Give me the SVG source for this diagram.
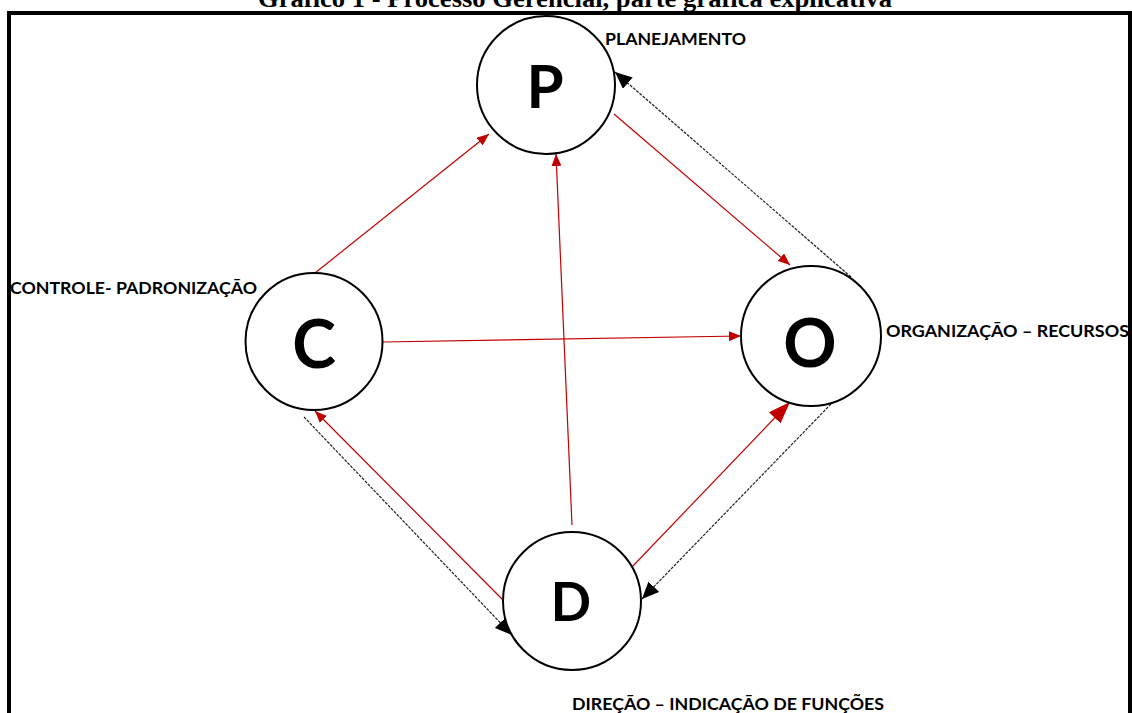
<svg xmlns="http://www.w3.org/2000/svg" width="1132" height="713" viewBox="0 0 1132 713">
<style>
.node circle{fill:#fff;stroke:#000;stroke-width:2}
.big{font-family:Lato,"Open Sans","DejaVu Sans",sans-serif;font-weight:bold;text-anchor:middle;fill:#000}
.lbl{font-family:Lato,"Open Sans","DejaVu Sans",sans-serif;font-weight:bold;font-size:17.5px;fill:#000}
.red{stroke:#C00000;stroke-width:1.2;fill:none}
.dot{stroke:#222;stroke-width:1.2;stroke-dasharray:3 1.2;fill:none}
</style>
<defs>
<marker id="rs" markerUnits="userSpaceOnUse" markerWidth="12" markerHeight="10" refX="12" refY="5" orient="auto"><path d="M0,0 L12,5 L0,10 z" fill="#C00000"/></marker>
<marker id="rl" markerUnits="userSpaceOnUse" markerWidth="22" markerHeight="16" refX="22" refY="8" orient="auto"><path d="M0,0 L22,8 L0,16 z" fill="#C00000"/></marker>
<marker id="bk" markerUnits="userSpaceOnUse" markerWidth="17" markerHeight="15" refX="17" refY="7.5" orient="auto"><path d="M0,0 L17,7.5 L0,15 z" fill="#000"/></marker>
</defs>
<rect x="0" y="0" width="1132" height="713" fill="#fff"/>
<text x="575" y="7" font-family="'Liberation Serif','Times New Roman',serif" font-weight="bold" font-size="26" text-anchor="middle" textLength="634" lengthAdjust="spacingAndGlyphs">Gráfico 1 - Processo Gerencial, parte gráfica explicativa</text>
<rect x="9" y="13" width="1121" height="720" fill="none" stroke="#000" stroke-width="4"/>
<g id="connectors">
<line class="red" x1="315" y1="273" x2="489" y2="134" marker-end="url(#rs)"/>
<line class="red" x1="383" y1="342" x2="741" y2="336" marker-end="url(#rs)"/>
<line class="red" x1="614" y1="114" x2="790" y2="265" marker-end="url(#rs)"/>
<line class="red" x1="572" y1="525" x2="556" y2="154" marker-end="url(#rs)"/>
<line class="red" x1="503" y1="600" x2="315" y2="411" marker-end="url(#rs)"/>
<line class="red" x1="631" y1="568" x2="790" y2="402" stroke-width="1.5" marker-end="url(#rl)"/>
<line class="dot" x1="851" y1="277" x2="615" y2="72" marker-end="url(#bk)"/>
<line class="dot" x1="831" y1="404" x2="642" y2="599" marker-end="url(#bk)"/>
<line class="dot" x1="304" y1="417" x2="512" y2="635" marker-end="url(#bk)"/>
</g>
<g id="node-P" class="node"><circle cx="546" cy="85" r="69"/><text class="big" x="545" y="108" font-size="60">P</text></g>
<g id="node-C" class="node"><circle cx="314" cy="341.5" r="68.5"/><text class="big" x="314" y="368" font-size="66">C</text></g>
<g id="node-O" class="node"><circle cx="811" cy="336" r="70"/><text class="big" x="810" y="367" font-size="66">O</text></g>
<g id="node-D" class="node"><circle cx="572" cy="601" r="69"/><text class="big" x="571" y="621" font-size="53">D</text></g>
<g id="labels">
<text class="lbl" x="605" y="45" textLength="141" lengthAdjust="spacingAndGlyphs">PLANEJAMENTO</text>
<text class="lbl" x="10" y="294" textLength="247" lengthAdjust="spacingAndGlyphs">CONTROLE- PADRONIZAÇÃO</text>
<text class="lbl" x="886" y="337" textLength="243" lengthAdjust="spacingAndGlyphs">ORGANIZAÇÃO – RECURSOS</text>
<text class="lbl" x="572" y="710" textLength="312" lengthAdjust="spacingAndGlyphs">DIREÇÃO – INDICAÇÃO DE FUNÇÕES</text>
</g>
</svg>
